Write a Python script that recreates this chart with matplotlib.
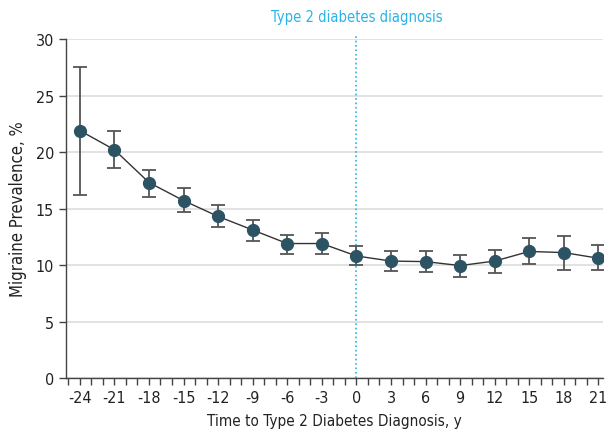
import matplotlib.pyplot as plt
from matplotlib.ticker import MultipleLocator

# Data
years = [-24, -21, -18, -15, -12, -9, -6, -3, 0, 3, 6, 9, 12, 15, 18, 21]
prevalence = [21.9, 20.2, 17.3, 15.7, 14.3, 13.1, 11.9, 11.9, 10.8, 10.35, 10.3, 9.95, 10.35, 11.2, 11.1, 10.6]
ci_low = [16.2, 18.6, 16.0, 14.7, 13.4, 12.1, 11.0, 11.0, 10.0, 9.45, 9.35, 8.95, 9.3, 10.05, 9.6, 9.55]
ci_high = [27.5, 21.9, 18.4, 16.8, 15.3, 13.95, 12.7, 12.8, 11.7, 11.2, 11.2, 10.9, 11.35, 12.35, 12.6, 11.75]

yerr = [[p - lo for p, lo in zip(prevalence, ci_low)],
        [hi - p for p, hi in zip(prevalence, ci_high)]]

plt.rcParams['font.family'] = 'DejaVu Sans'
plt.rcParams['font.stretch'] = 'condensed'
plt.rcParams['axes.unicode_minus'] = False

fig = plt.figure(figsize=(6.11, 4.31), dpi=100)
ax = fig.add_axes([0.108, 0.1206, 0.879, 0.7866])

ax.axvline(0, color='#29b3e6', linestyle=':', linewidth=1.2, ymax=1.015, clip_on=False, zorder=1)
ax.text(0, 1.045, 'Type 2 diabetes diagnosis', transform=ax.get_xaxis_transform(),
        ha='center', va='bottom', color='#29b3e6', fontsize=10.5)

ax.errorbar(years, prevalence, yerr=yerr, fmt='none', ecolor='#555555',
            elinewidth=1.3, capsize=5, capthick=1.3, zorder=2)
ax.plot(years, prevalence, color='#333333', linewidth=1, zorder=3)
ax.plot(years, prevalence, 'o', color='#2b5363', markersize=8.5, zorder=4)

ax.set_xlim(-25.2, 21.4)
ax.set_ylim(0, 30)
ax.set_yticks([0, 5, 10, 15, 20, 25, 30])
ax.set_xticks(years)
ax.xaxis.set_minor_locator(MultipleLocator(1))
ax.yaxis.grid(True, color='#dddddd', linewidth=1.2)
ax.set_axisbelow(True)

for s in ['top', 'right']:
    ax.spines[s].set_visible(False)
for s in ['left', 'bottom']:
    ax.spines[s].set_color('#444444')
    ax.spines[s].set_linewidth(1)

ax.tick_params(axis='both', which='major', labelsize=11.5, color='#444444', length=5, width=1, labelcolor='#222222')
ax.tick_params(axis='x', which='minor', color='#444444', length=5, width=1)

ax.set_xlabel('Time to Type 2 Diabetes Diagnosis, y', fontsize=11, color='#222222', labelpad=6)
ax.set_ylabel('Migraine Prevalence, %', fontsize=12, color='#222222', labelpad=6)

plt.savefig('out.png', dpi=100)
